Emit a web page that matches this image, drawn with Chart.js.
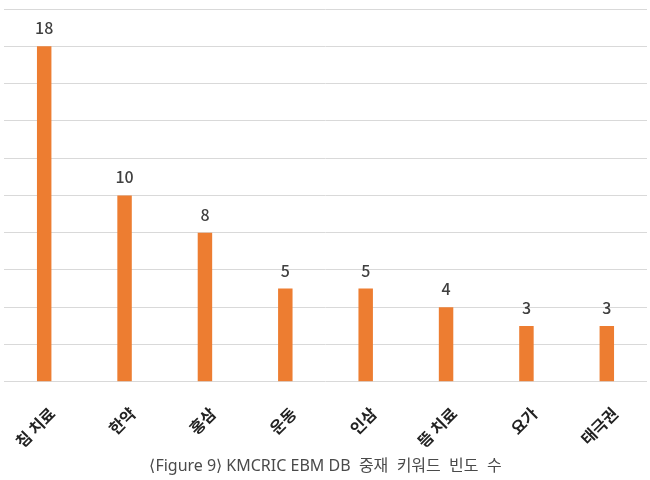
<!DOCTYPE html>
<html>
<head>
<meta charset="utf-8">
<script src="https://cdn.jsdelivr.net/npm/chart.js@4/dist/chart.umd.min.js"></script>
<style>
  html, body { margin: 0; padding: 0; background: #fff; }
  #wrap { width: 650px; height: 480px; }
</style>
</head>
<body>
<div id="wrap"><canvas id="kwChart"></canvas></div>
<script>
// 데이터
const categories = ['침 치료', '한약', '홍삼', '운동', '인삼', '뜸 치료', '요가', '태극권'];
const counts = [18, 10, 8, 5, 5, 4, 3, 3];
const yTicks = [0, 2, 4, 6, 8, 10, 12, 14, 16, 18, 20];

const FONT = "'Noto Sans CJK KR', 'Noto Sans', sans-serif";

// 막대 위에 값 표시
const valueLabels = {
    id: 'valueLabels',
    afterDatasetsDraw(chart) {
        const ctx = chart.ctx;
        const meta = chart.getDatasetMeta(0);
        ctx.save();
        ctx.font = '500 16px ' + FONT;
        ctx.fillStyle = '#404040';
        ctx.textAlign = 'center';
        ctx.textBaseline = 'middle';
        meta.data.forEach((bar, i) => {
            ctx.fillText(String(counts[i]), bar.x, bar.y - 18);
        });
        ctx.restore();
    }
};

new Chart(document.getElementById('kwChart'), {
    type: 'bar',
    data: {
        labels: categories,
        datasets: [{
            data: counts,
            backgroundColor: '#ED7D31',
            borderWidth: 0,
            barPercentage: 0.18,
            categoryPercentage: 1.0
        }]
    },
    options: {
        responsive: true,
        maintainAspectRatio: false,
        animation: false,
        layout: { padding: { left: 4, right: 3, top: 9, bottom: 4 } },
        plugins: {
            legend: { display: false },
            tooltip: { enabled: false },
            title: {
                display: true,
                position: 'bottom',
                text: '⟨Figure 9⟩ KMCRIC EBM DB  중재  키워드  빈도  수',
                color: '#4a4a4a',
                font: { family: "'Noto Sans', 'Noto Sans CJK KR', sans-serif", size: 16, weight: 'normal' },
                padding: { top: 10, bottom: 0 }
            }
        },
        scales: {
            x: {
                grid: { display: false },
                border: { display: false },
                ticks: {
                    color: '#222',
                    font: { family: FONT, size: 16, weight: 'bold' },
                    minRotation: 45,
                    maxRotation: 45,
                    labelOffset: 8,
                    padding: 14
                },
                afterFit(axis) {
                    axis.height = 65;
                    axis.paddingLeft = 0;
                    axis.paddingRight = 0;
                }
            },
            y: {
                min: 0,
                max: 20,
                afterBuildTicks(axis) { axis.ticks = yTicks.map(v => ({ value: v })); },
                grid: { color: '#d9d9d9', lineWidth: 1, drawTicks: false },
                border: { display: false },
                ticks: { display: false },
                afterFit(axis) { axis.width = 0; }
            }
        }
    },
    plugins: [valueLabels]
});
</script>
</body>
</html>
